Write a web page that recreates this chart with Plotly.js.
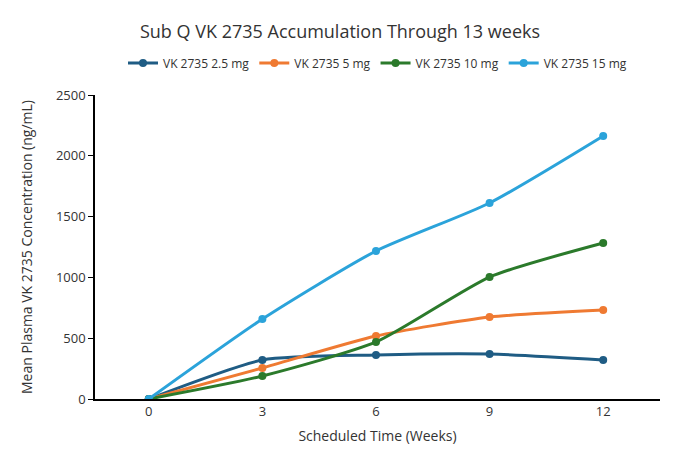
<!DOCTYPE html>
<html>
<head>
<meta charset="utf-8">
<script src="https://cdn.plot.ly/plotly-3.0.1.min.js"></script>
<style>html,body{margin:0;padding:0;background:#fff}</style>
</head>
<body>
<div id="chart" style="width:680px;height:470px"></div>
<script>
const weeks = [0, 3, 6, 9, 12];
const dose25 = [0, 321, 362, 370, 321];
const dose5 = [0, 255, 518, 674, 732];
const dose10 = [0, 189, 469, 1003, 1283];
const dose15 = [0, 658, 1217, 1612, 2163];
const names = ["VK 2735 2.5 mg", "VK 2735 5 mg", "VK 2735 10 mg", "VK 2735 15 mg"];
const colors = ["#1f5c84", "#ef7a32", "#2b7a2b", "#2ba3da"];

const traces = [dose25, dose5, dose10, dose15].map((ys, i) => ({
    x: weeks, y: ys, name: names[i], type: "scatter", mode: "lines+markers",
    line: { color: colors[i], width: 3, shape: "spline", smoothing: 0.6 },
    marker: { color: colors[i], size: 8 },
}));

const layout = {
    width: 680, height: 470,
    paper_bgcolor: "#fff", plot_bgcolor: "#fff",
    font: { family: "Open Sans, Liberation Sans, sans-serif", color: "#333", size: 13 },
    title: { text: "Sub Q VK 2735 Accumulation Through 13 weeks", x: 0.5, y: 0.945,
             font: { size: 18, color: "#333" } },
    margin: { l: 95, r: 20, t: 95, b: 71 },
    showlegend: true,
    legend: { orientation: "h", x: 0.5, xanchor: "center", y: 1.105, yanchor: "middle",
              font: { size: 12, color: "#333" } },
    xaxis: {
        range: [-1.42, 13.5], tickvals: weeks, showgrid: false, zeroline: false,
        showline: true, linecolor: "#000", linewidth: 1.5, ticks: "",
        title: { text: "Scheduled Time (Weeks)", font: { size: 14 }, standoff: 12 },
    },
    yaxis: {
        range: [0, 2500], dtick: 500, showgrid: false, zeroline: false,
        showline: true, linecolor: "#000", linewidth: 1.5, ticks: "outside",
        ticklen: 5, tickcolor: "#000",
        title: { text: "Mean Plasma VK 2735 Concentration (ng/mL)", font: { size: 14 }, standoff: 20 },
    },
};

Plotly.newPlot("chart", traces, layout, { displayModeBar: false });
</script>
</body>
</html>
